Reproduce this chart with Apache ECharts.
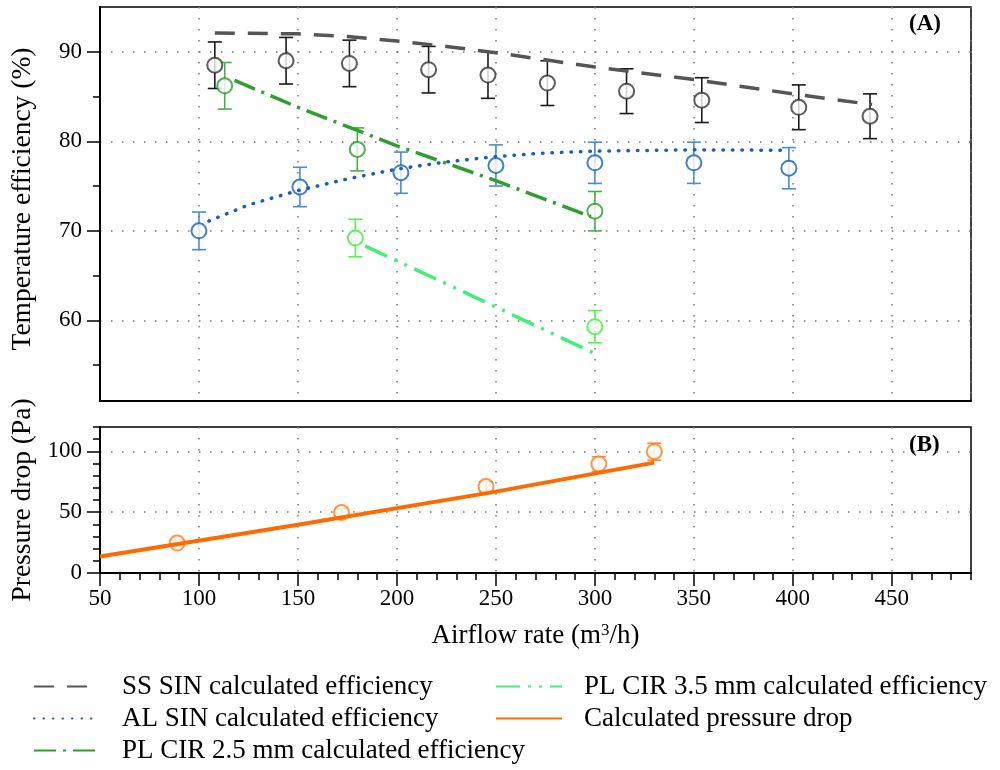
<!DOCTYPE html>
<html>
<head>
<meta charset="utf-8">
<title>Temperature efficiency and pressure drop</title>
<script src="https://cdn.jsdelivr.net/npm/echarts@6.0.0/dist/echarts.min.js"></script>
<style>
  html, body { margin: 0; padding: 0; background: #fff; }
  #main { width: 1000px; height: 770px; }
</style>
</head>
<body>
<div id="main"></div>
<script>
// ---- measured points (airflow m3/h, value, +/- error) ----
var ssAirflow = [108, 144, 176, 216, 246, 276, 316, 354, 403, 439];
var ssEff     = [88.5, 89.0, 88.7, 88.0, 87.4, 86.5, 85.6, 84.6, 83.8, 82.8];
var ssErr     = [2.6, 2.6, 2.6, 2.6, 2.6, 2.5, 2.5, 2.5, 2.5, 2.5];

var alAirflow = [100, 151, 202, 250, 300, 350, 398];
var alEff     = [70.0, 74.9, 76.5, 77.3, 77.6, 77.6, 77.0];
var alErr     = [2.1, 2.2, 2.3, 2.3, 2.3, 2.3, 2.3];

var pl25Airflow = [113, 180, 300];
var pl25Eff     = [86.2, 79.1, 72.2];
var pl25Err     = [2.6, 2.4, 2.2];

var pl35Airflow = [179, 300];
var pl35Eff     = [69.2, 59.3];
var pl35Err     = [2.1, 1.8];

var dpAirflow = [89, 172, 245, 302, 330];
var dpValue   = [24.6, 49.7, 71.0, 89.6, 99.7];
var dpErr     = [2.5, 3, 4, 6, 7];

// ---- calculated curves ----
var ssCalcX = [108, 150, 175, 200, 225, 250, 275, 300, 350, 400, 440];
var ssCalcY = [92.1, 92.0, 91.7, 91.2, 90.6, 89.9, 89.1, 88.3, 86.9, 85.3, 84.1];

var alCalcX = [105, 125, 150, 175, 200, 225, 250, 275, 300, 350, 395];
var alCalcY = [71.1, 72.9, 74.5, 75.8, 76.9, 77.7, 78.3, 78.7, 78.9, 79.05, 79.0];

var pl25CalcX = [118, 150, 200, 250, 298];
var pl25CalcY = [86.8, 83.8, 79.5, 75.6, 71.6];

var pl35CalcX = [184, 250, 300];
var pl35CalcY = [68.3, 61.5, 56.3];

var dpCalcX = [50, 150, 250, 330];
var dpCalcY = [13.6, 39.6, 66.9, 90.7];

// ---- ticks / labels ----
var xLabels = [50, 100, 150, 200, 250, 300, 350, 400, 450];
var effLabels = [60, 70, 80, 90];
var effMinorTicks = [55, 65, 75, 85];
var dpLabels = [0, 50, 100];

var FONT = "'Liberation Serif', 'DejaVu Serif', serif";

function zip(xs, ys) {
  return xs.map(function (x, i) { return [x, ys[i]]; });
}

function errorBars(xs, ys, es, color, gi) {
  return {
    type: 'custom',
    xAxisIndex: gi === 0 ? 0 : 2,
    yAxisIndex: gi === 0 ? 0 : 2,
    z: 2,
    silent: true,
    data: xs.map(function (x, i) { return [x, ys[i] - es[i], ys[i] + es[i]]; }),
    renderItem: function (params, api) {
      var top = api.coord([api.value(0), api.value(2)]);
      var bot = api.coord([api.value(0), api.value(1)]);
      var w = 7;
      var st = { stroke: color, lineWidth: 1.6, fill: null };
      return {
        type: 'group',
        children: [
          { type: 'line', shape: { x1: top[0], y1: top[1], x2: bot[0], y2: bot[1] }, style: st },
          { type: 'line', shape: { x1: top[0] - w, y1: top[1], x2: top[0] + w, y2: top[1] }, style: st },
          { type: 'line', shape: { x1: bot[0] - w, y1: bot[1], x2: bot[0] + w, y2: bot[1] }, style: st }
        ]
      };
    }
  };
}

function markers(name, xs, ys, color, gi) {
  return {
    name: name,
    type: 'scatter',
    xAxisIndex: gi === 0 ? 0 : 2,
    yAxisIndex: gi === 0 ? 0 : 2,
    z: 3,
    symbol: 'circle',
    symbolSize: 15,
    itemStyle: { color: '#fff', borderColor: color, borderWidth: 2 },
    data: zip(xs, ys)
  };
}

function calcLine(name, xs, ys, color, width, dash, cap, gi) {
  return {
    name: name,
    type: 'line',
    xAxisIndex: gi === 0 ? 0 : 2,
    yAxisIndex: gi === 0 ? 0 : 2,
    z: 4,
    symbol: 'none',
    smooth: false,
    lineStyle: { color: color, width: width, type: dash, cap: cap },
    itemStyle: { color: color },
    data: zip(xs, ys)
  };
}

var dotted = { color: '#777', width: 1.5, type: [1.5, 9.5] };
var blackLine = { show: true, onZero: false, lineStyle: { color: '#000', width: 1.8 } };

var legendCommon = {
  orient: 'vertical', itemWidth: 66, itemHeight: 14, itemGap: 5, padding: 0, height: 110,
  itemStyle: { color: 'rgba(0,0,0,0)', borderWidth: 0 },
  textStyle: { fontSize: 27, lineHeight: 27, fontFamily: FONT, color: '#000', padding: [0, 0, 0, 17] }
};

var option = {
  backgroundColor: '#fff',
  animation: false,
  textStyle: { fontFamily: FONT, color: '#000' },
  grid: [
    { left: 100, top: 7, width: 871, height: 394, show: true, borderColor: '#000', borderWidth: 1.5, backgroundColor: 'transparent' },
    { left: 100, top: 427, width: 871, height: 146, show: true, borderColor: '#000', borderWidth: 1.5, backgroundColor: 'transparent' }
  ],
  xAxis: [
    { // top panel: only frame + vertical grid
      type: 'value', gridIndex: 0, min: 50, max: 490, interval: 50, position: 'bottom',
      axisLine: blackLine, axisTick: { show: false }, axisLabel: { show: false },
      splitLine: { show: true, lineStyle: dotted }
    },
    { // bottom panel minor ticks
      type: 'value', gridIndex: 1, min: 50, max: 490, interval: 10, position: 'bottom',
      axisLine: blackLine, axisTick: { show: true, length: 7, lineStyle: { color: '#000', width: 1.5 } },
      axisLabel: { show: false }, splitLine: { show: false }
    },
    { // bottom panel major ticks, labels, grid
      type: 'value', gridIndex: 1, min: 50, max: 490, interval: 50, position: 'bottom',
      axisLine: blackLine,
      axisTick: { show: true, length: 13, customValues: xLabels, lineStyle: { color: '#000', width: 1.5 } },
      axisLabel: {
        show: true, customValues: xLabels, margin: 14, fontSize: 23, fontFamily: FONT, color: '#000',
        formatter: function (v) { return xLabels.indexOf(v) >= 0 ? String(v) : ''; }
      },
      splitLine: { show: true, lineStyle: dotted },
      name: 'Airflow rate (m{sup|3}/h)',
      nameLocation: 'middle', nameGap: 49,
      nameTextStyle: {
        fontSize: 27, fontFamily: FONT, color: '#000',
        rich: { sup: { fontSize: 17, fontFamily: FONT, color: '#000', verticalAlign: 'top', padding: [0, 0, 10, 0] } }
      }
    }
  ],
  yAxis: [
    { // top panel major
      type: 'value', gridIndex: 0, min: 51, max: 95, minInterval: 10, maxInterval: 10, position: 'left',
      axisLine: blackLine,
      axisTick: { show: true, length: 13, customValues: effLabels, lineStyle: { color: '#000', width: 1.5 } },
      axisLabel: {
        show: true, customValues: effLabels, margin: 18, fontSize: 23, fontFamily: FONT, color: '#000',
        formatter: function (v) { return effLabels.indexOf(v) >= 0 ? String(v) : ''; }
      },
      splitLine: { show: true, lineStyle: dotted },
      name: 'Temperature efficiency (%)', nameLocation: 'middle', nameGap: 63,
      nameTextStyle: { fontSize: 27.5, fontFamily: FONT, color: '#000', padding: [0, 0, 0, 10] }
    },
    { // top panel minor
      type: 'value', gridIndex: 0, min: 51, max: 95, minInterval: 5, maxInterval: 5, position: 'left',
      axisLine: blackLine,
      axisTick: { show: true, length: 7, customValues: effMinorTicks, lineStyle: { color: '#000', width: 1.5 } },
      axisLabel: { show: false }, splitLine: { show: false }
    },
    { // bottom panel major
      type: 'value', gridIndex: 1, min: 0, max: 120, interval: 50, position: 'left',
      axisLine: blackLine,
      axisTick: { show: true, length: 13, customValues: dpLabels, lineStyle: { color: '#000', width: 1.5 } },
      axisLabel: {
        show: true, customValues: dpLabels, margin: 18, fontSize: 23, fontFamily: FONT, color: '#000',
        formatter: function (v) { return dpLabels.indexOf(v) >= 0 ? String(v) : ''; }
      },
      splitLine: { show: true, lineStyle: dotted },
      name: 'Pressure drop (Pa)', nameLocation: 'middle', nameGap: 63,
      nameTextStyle: { fontSize: 27.5, fontFamily: FONT, color: '#000' }
    },
    { // bottom panel minor
      type: 'value', gridIndex: 1, min: 0, max: 120, interval: 10, position: 'left',
      axisLine: blackLine,
      axisTick: { show: true, length: 7, lineStyle: { color: '#000', width: 1.5 } },
      axisLabel: { show: false }, splitLine: { show: false }
    }
  ],
  legend: [
    echarts.util.merge({
      left: 33, top: 673,
      data: ['SS SIN calculated efficiency', 'AL SIN calculated efficiency', 'PL CIR 2.5 mm calculated efficiency']
    }, legendCommon),
    echarts.util.merge({
      left: 495, top: 673,
      data: ['PL CIR 3.5 mm calculated efficiency', 'Calculated pressure drop']
    }, legendCommon)
  ],
  graphic: [
    { type: 'text', left: 909, top: 13, style: { text: '(A)', font: 'bold 23px ' + FONT, fill: '#000' } },
    { type: 'text', left: 909, top: 434, style: { text: '(B)', font: 'bold 23px ' + FONT, fill: '#000' } }
  ],
  series: [
    errorBars(ssAirflow, ssEff, ssErr, '#1a1a1a', 0),
    errorBars(alAirflow, alEff, alErr, '#4a8cd4', 0),
    errorBars(pl25Airflow, pl25Eff, pl25Err, '#45b045', 0),
    errorBars(pl35Airflow, pl35Eff, pl35Err, '#55f255', 0),
    errorBars(dpAirflow, dpValue, dpErr, '#ff8a30', 1),

    markers('SS SIN measured', ssAirflow, ssEff, '#333333', 0),
    markers('AL SIN measured', alAirflow, alEff, '#1560bd', 0),
    markers('PL CIR 2.5 mm measured', pl25Airflow, pl25Eff, '#2c9a2c', 0),
    markers('PL CIR 3.5 mm measured', pl35Airflow, pl35Eff, '#3cf03c', 0),
    markers('Measured pressure drop', dpAirflow, dpValue, '#ff7a1a', 1),

    calcLine('SS SIN calculated efficiency', ssCalcX, ssCalcY, '#555555', 3.5, [20, 13], 'butt', 0),
    calcLine('AL SIN calculated efficiency', alCalcX, alCalcY, '#1a5fb4', 3.5, [0.5, 9], 'round', 0),
    calcLine('PL CIR 2.5 mm calculated efficiency', pl25CalcX, pl25CalcY, '#2e9e2e', 3.5, [22, 7, 3, 7], 'butt', 0),
    calcLine('PL CIR 3.5 mm calculated efficiency', pl35CalcX, pl35CalcY, '#40f07c', 3.5, [24, 8, 3, 8, 3, 8], 'butt', 0),
    calcLine('Calculated pressure drop', dpCalcX, dpCalcY, '#ff6a00', 4, 'solid', 'butt', 1)
  ]
};

var chart = echarts.init(document.getElementById('main'));
chart.setOption(option);
</script>
</body>
</html>
